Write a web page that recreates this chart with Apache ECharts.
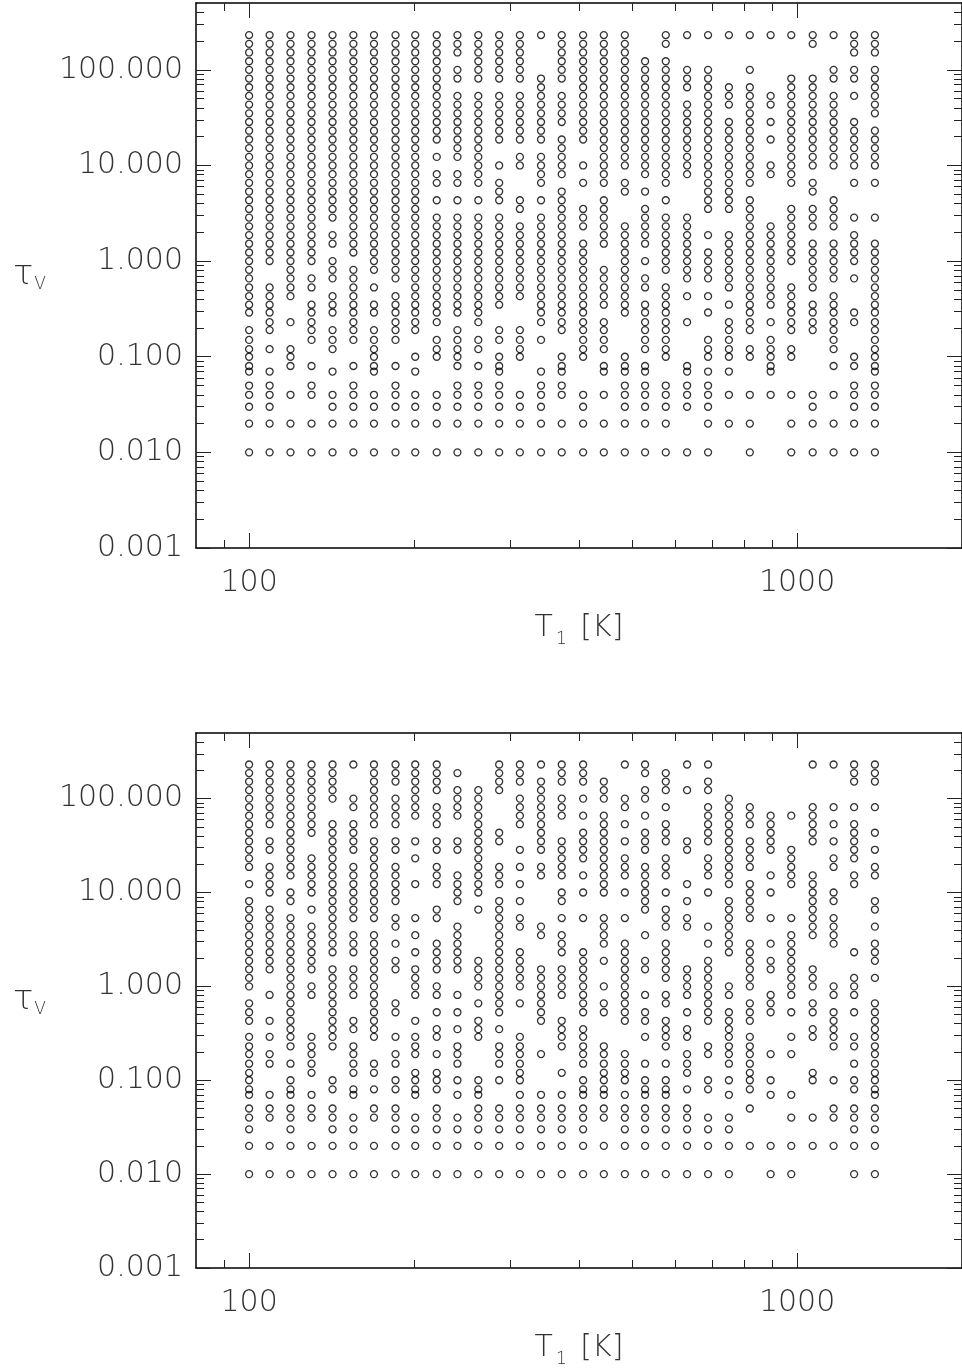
<!DOCTYPE html>
<html>
<head>
<meta charset="utf-8">
<script src="https://cdn.jsdelivr.net/npm/echarts@6/dist/echarts.min.js"></script>
<style>
html, body { margin: 0; padding: 0; background: #fff; overflow: hidden; }
#chart { width: 962px; height: 1369px; }
</style>
</head>
<body>
<div id="chart"></div>
<script>
// T1 grid [K], one column of points per value
var tempK = [100, 109, 119, 130, 142, 155, 169, 185, 201, 220, 240, 262, 286, 312, 341, 372,
             407, 444, 485, 528, 576, 630, 688, 751, 820, 895, 976, 1068, 1166, 1271, 1387];

// tau_V levels, from top to bottom
var tauLevels = [231, 187, 152, 123, 100, 81.1, 65.8, 53.4, 43.3, 35.1, 28.5, 23.1, 18.7, 15.2, 12.3,
                 10, 8.11, 6.58, 5.34, 4.33, 3.51, 2.85, 2.31, 1.87, 1.52, 1.23, 1.0, 0.81, 0.66,
                 0.53, 0.43, 0.35, 0.29, 0.23, 0.19, 0.15, 0.12, 0.10, 0.08, 0.07, 0.05, 0.04,
                 0.03, 0.02, 0.01];

// filled tau levels (indexes into tauLevels) for each T column, upper panel
var topColumns = [
  '0-32,34-44', '0-26,29-34,36,39-44', '0-30,33,36-38,41,43,44', '0-26,28,29,31-35,38,40,41,43,44',
  '0-21,23,24,26-28,30-32,34-36,39,41-44', '0-25,27-35,38,40-44', '0-27,29,31,32,34-39,41-44',
  '0-28,30-35,38,40-44', '0-34,37,39,41-44', '0-12,14,16,17,19,21-33,35-37,41-44',
  '0-2,4,5,7-14,16,17,19,21-32,34-38,40-44', '0-5,7-17,19,21-33,35,36,38,40-44',
  '0-5,7-12,15,17-19,21-31,34,35,37-44', '0-5,7-12,14,15,19,20,22-30,34-37,41-44',
  '0,5-12,14-17,19,21-33,35,39-44', '0-5,7-10,12-16,18-34,37-41,43,44',
  '0-12,15,17,20-22,24-37,41-44', '0-17,19-24,27-31,33-36,38,39,41,43,44',
  '0-15,17,18,22-32,37-44', '3-16,18,20-24,26,28,29,31-36,38-44',
  '0,1,3-17,19,21-27,29-37,40-44', '0,4-6,8-16,21-28,30,33,38-42,44',
  '0,4-20,23,25-28,30,32,35-37,39-44', '0,6-8,10-20,23-29,31,33-37,39,41,43',
  '0,4,6-17,19-34,36,37,41,43,44', '0,7,8,10,12,15,16,22-31,33,35-39,41',
  '0,5-17,20-26,29-34,36,37,41,43,44', '0,1,5-15,17,18,20-22,24-29,31-34,41-44',
  '0,4,5,7-15,19-22,24-28,30-36,38,41,43,44', '0-2,4,5,7,10-15,17,21,23-26,28,32,33,37,38,40-44',
  '0-2,4-9,11-15,17,21,24-44'
];

// same for the lower panel
var bottomColumns = [
  '0-12,14,16-26,28-30,32-44', '0-7,9,10,12-15,17-24,27,30,32,34,35,39-41,43,44',
  '0-13,15,16,18-33,35,37-44', '0-8,11-15,17,19-24,26,27,32-36,39-41,43,44',
  '0-4,7-22,24-33,37,38,40-44', '0,4,5,7-10,12-18,20-22,24-27,30,31,33-36,38,39,41-44',
  '0-7,9-18,20-32,35,36,38,40,41,43,44', '0-2,4-7,9,10,12-16,18,19,21,23,24,28,29,32,34,35,37,38,40-44',
  '0-6,9,11,14,18,20,22,24-27,30,32-34,36-39,41-44',
  '0-3,5-7,9,10,12-14,17,18,21-24,26,27,29,31,32,34,36-38,40-44',
  '1,3-6,9,10,13-16,19-24,27,29,31,33-35,37,39,41-44', '3-15,17,23-26,28,30-32,37-44',
  '0-3,8,9,12-14,16-29,31,33-35,37,40-44', '0-2,4-7,10,12,14,16,18,19,22-26,28,32-37,39-44',
  '0,2-10,12,13,19,20,24-30,34,39-44', '0-2,4-6,9-13,15,16,18,20-22,24-27,30-33,36,39-44',
  '0-2,4,6,8-11,13,15,18,22-29,31-35,37-44', '2-4,6-15,18-21,23,26,28,29,33-41,43,44',
  '0,4,5,7,9,11-13,15,18,21-30,34-37,39-44', '0,1,3,4,6,8-10,12-17,20,23,24,27,29,30,32,35,37-44',
  '1-3,5,7-9,11-13,15,17-19,21-25,27,28,30-33,35,37-44',
  '0,3,9,10,14,16,18,19,24-27,29,31,32,34-36,38,40-44',
  '0,2,3,5-9,11-13,15,19,21,23-30,33,34,37,38,41-44', '4-14,16-22,26,27,29-35,37,39,41-44',
  '5-7,9-12,14-18,21-26,28-30,32-38,40,43', '6-10,13,15,18,21,23,24,27-29,34,37,39,43,44',
  '6,10-14,18,20-27,29,32,34,39,41,43,44', '0,5-9,13-20,24-26,28,29,31,32,36,37,41,43',
  '0,5,7,9,11,12,15,16,18-21,26,27,29-33,37,40,41,43',
  '0-2,5,7-11,13,14,22,25-27,29,32,33,35,37,38,40-44',
  '0-2,5,8,10,12,13,16,17,19,21-23,25,28-44'
];

// axes
var xRange = [80, 2000];
var yRange = [0.001, 500];
var xMajorTicks = [100, 1000];
var xMinorTicks = [90, 200, 300, 400, 500, 600, 700, 800, 900, 2000];
var yMajorTicks = [0.001, 0.01, 0.1, 1, 10, 100];
var yMinorTicks = [0.002, 0.003, 0.004, 0.005, 0.006, 0.007, 0.008, 0.009,
                   0.02, 0.03, 0.04, 0.05, 0.06, 0.07, 0.08, 0.09,
                   0.2, 0.3, 0.4, 0.5, 0.6, 0.7, 0.8, 0.9,
                   2, 3, 4, 5, 6, 7, 8, 9,
                   20, 30, 40, 50, 60, 70, 80, 90,
                   200, 300, 400];

function lg(v) { return Math.log10(v); }

function expand(spec) {
  var out = [];
  spec.split(',').forEach(function (part) {
    var ab = part.split('-');
    var a = +ab[0], b = ab.length > 1 ? +ab[1] : a;
    for (var k = a; k <= b; k++) out.push(k);
  });
  return out;
}

function buildPoints(columns) {
  var pts = [];
  columns.forEach(function (spec, i) {
    expand(spec).forEach(function (j) {
      pts.push([lg(tempK[i]), lg(tauLevels[j])]);
    });
  });
  return pts;
}

var labelFont = { fontFamily: 'DejaVu Sans', fontSize: 30, fontWeight: 200, color: '#333' };

var grids = [
  { left: 196, top: 3, width: 772, height: 545 },
  { left: 196, top: 733, width: 772, height: 545 }
];

function axis(kind, g, pos, major, withLine, withLabel) {
  var range = kind === 'x' ? xRange : yRange;
  var ticks = (kind === 'x' ? (major ? xMajorTicks : xMinorTicks) : (major ? yMajorTicks : yMinorTicks)).map(lg);
  var a = {
    gridIndex: g,
    type: 'value',
    position: pos,
    min: lg(range[0]),
    max: lg(range[1]),
    splitLine: { show: false },
    axisLine: { show: withLine, onZero: false, lineStyle: { color: '#000', width: 1.5 } },
    axisTick: { show: true, inside: true, length: major ? 15 : 8, customValues: ticks,
                lineStyle: { color: '#222', width: 1 } },
    axisLabel: { show: false }
  };
  if (withLabel && kind === 'x') {
    a.axisLabel = Object.assign({ show: true, margin: 20, customValues: xMajorTicks.map(lg),
      formatter: function (v) { return String(Math.round(Math.pow(10, v))); } }, labelFont);
    a.name = '{t|T}{s|1}{t| [K]}';
    a.nameLocation = 'middle';
    a.nameGap = 60;
    a.nameTextStyle = {
      rich: {
        t: { fontFamily: 'DejaVu Sans', fontSize: 30, fontWeight: 200, color: '#333', lineHeight: 40 },
        s: { fontFamily: 'DejaVu Sans', fontSize: 17, fontWeight: 200, color: '#333', lineHeight: 40,
             verticalAlign: 'bottom', padding: [0, 4, 0, 3] }
      }
    };
  }
  if (withLabel && kind === 'y') {
    a.axisLabel = Object.assign({ show: true, margin: 13, customValues: yMajorTicks.map(lg),
      formatter: function (v) { return Math.pow(10, v).toFixed(3); } }, labelFont);
    a.name = '{t|τ}{s|V}';
    a.nameLocation = 'middle';
    a.nameRotate = 0;
    a.nameGap = 150;
    a.nameTextStyle = {
      rich: {
        t: { fontFamily: 'DejaVu Sans', fontSize: 34, fontWeight: 200, color: '#333', lineHeight: 40 },
        s: { fontFamily: 'DejaVu Sans', fontSize: 17, fontWeight: 200, color: '#333', lineHeight: 40,
             verticalAlign: 'bottom', padding: [0, 0, 2, 1] }
      }
    };
  }
  return a;
}

var xAxes = [], yAxes = [];
[0, 1].forEach(function (g) {
  xAxes.push(axis('x', g, 'bottom', true, true, true));
  xAxes.push(axis('x', g, 'bottom', false, false, false));
  xAxes.push(axis('x', g, 'top', true, true, false));
  xAxes.push(axis('x', g, 'top', false, false, false));
  yAxes.push(axis('y', g, 'left', true, true, true));
  yAxes.push(axis('y', g, 'left', false, false, false));
  yAxes.push(axis('y', g, 'right', true, true, false));
  yAxes.push(axis('y', g, 'right', false, false, false));
});

function scatter(g, data) {
  return {
    type: 'scatter',
    xAxisIndex: 4 * g,
    yAxisIndex: 4 * g,
    data: data,
    symbol: 'circle',
    symbolSize: 7,
    silent: true,
    itemStyle: { color: 'rgba(0,0,0,0)', borderColor: '#000', borderWidth: 1.3 }
  };
}

var chart = echarts.init(document.getElementById('chart'));
chart.setOption({
  backgroundColor: '#fff',
  animation: false,
  grid: grids,
  xAxis: xAxes,
  yAxis: yAxes,
  series: [scatter(0, buildPoints(topColumns)), scatter(1, buildPoints(bottomColumns))]
});
</script>
</body>
</html>
